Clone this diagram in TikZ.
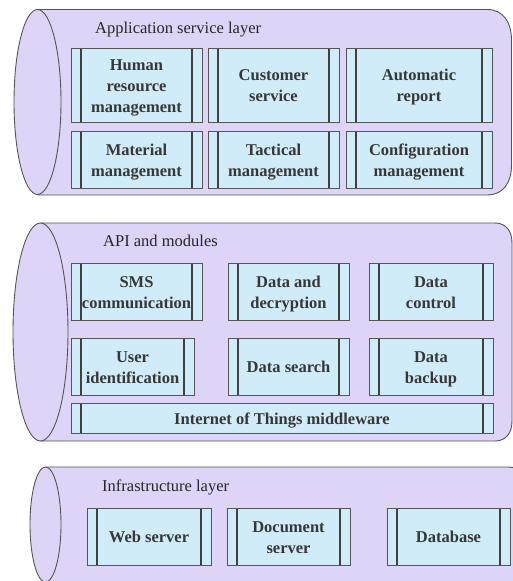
\documentclass[tikz,border=0pt]{standalone}
\usepackage{fontspec}
\usepackage{array}
\setmainfont{Liberation Serif}
\setlength\extrarowheight{6pt}
\definecolor{layerfill}{RGB}{221,212,247}
\definecolor{boxfill}{RGB}{208,236,248}
\definecolor{edge}{RGB}{85,85,85}
\definecolor{inktext}{RGB}{55,55,55}
% centred stack of lines with a fixed line pitch
\newcommand\lines[1]{\begin{tabular}{@{}c@{}}#1\end{tabular}}
\begin{document}
\begin{tikzpicture}[x=1pt,y=-1pt,
  layer/.style={fill=layerfill,draw=edge,line width=0.9pt},
  layertitle/.style={anchor=base west,inner sep=0pt,text=black!85,font=\fontsize{16.5}{20}\selectfont},
  proc/.style={draw=edge,fill=boxfill,line width=0.8pt,inner sep=0pt,
    text=inktext,font=\fontsize{16.5}{15}\selectfont\bfseries,
    path picture={
      \draw[black!75,line width=1.3pt]
        ([xshift=10pt]path picture bounding box.north west) -- ([xshift=10pt]path picture bounding box.south west)
        ([xshift=-10pt]path picture bounding box.north east) -- ([xshift=-10pt]path picture bounding box.south east);
    }},
]
\useasboundingbox (0,0) rectangle (513,581);

% ---------------- application service layer ----------------
\path[layer] (37.5,9.5) -- (487,9.5) .. controls (503,9.5) and (511.5,22) .. (511.5,40)
  -- (511.5,165) .. controls (511.5,183) and (503,195) .. (487,195) -- (37.5,195);
\draw[layer] (37.5,102) ellipse [x radius=23.5, y radius=92.5];
\node[layertitle] (apptitle) at (95,33.5) {Application service layer};
\node[proc,minimum width=131pt,minimum height=74pt] (hr)   at (136.5,85)  {\lines{Human\\resource\\management}};
\node[proc,minimum width=131pt,minimum height=74pt] (cs)   at (273.5,85)  {\lines{Customer\\service}};
\node[proc,minimum width=146pt,minimum height=74pt] (ar)   at (419,85)    {\lines{Automatic\\report}};
\node[proc,minimum width=131pt,minimum height=57pt] (mm)   at (136.5,159.5) {\lines{Material\\management}};
\node[proc,minimum width=131pt,minimum height=57pt] (tm)   at (273.5,159.5) {\lines{Tactical\\management}};
\node[proc,minimum width=146pt,minimum height=57pt] (cm)   at (419,159.5)   {\lines{Configuration\\management}};

% ---------------- API and modules ----------------
\path[layer] (40.5,223) -- (495,223) .. controls (506,223) and (512,231) .. (512,243)
  -- (512,421) .. controls (512,433) and (506,441) .. (495,441) -- (40.5,441);
\draw[layer] (40.5,332) ellipse [x radius=27.5, y radius=109];
\node[layertitle] (apititle) at (103,246.5) {API and modules};
\node[proc,minimum width=131pt,minimum height=57pt] (sms)  at (136.5,291.5) {\lines{SMS\\communication}};
\node[proc,minimum width=121pt,minimum height=57pt] (dd)   at (288.5,291.5) {\lines{Data and\\decryption}};
\node[proc,minimum width=124pt,minimum height=57pt] (dc)   at (431,291.5)   {\lines{Data\\control}};
\node[proc,minimum width=123pt,minimum height=57pt] (uid)  at (132.5,366.5) {\lines{User\\identification}};
\node[proc,minimum width=121pt,minimum height=57pt] (ds)   at (288.5,366.5) {\lines{Data search}};
\node[proc,minimum width=124pt,minimum height=57pt] (db)   at (431,366.5)   {\lines{Data\\backup}};
\node[proc,minimum width=422pt,minimum height=30pt] (iot)  at (282,418)     {\lines{Internet of Things middleware}};

% ---------------- infrastructure layer ----------------
\path[layer] (45.5,467) -- (508,467) .. controls (520,467) and (528,475) .. (528,488)
  -- (528,600) -- (45.5,600);
\draw[layer] (45.5,524.5) ellipse [x radius=15.5, y radius=57.5];
\node[layertitle] (inftitle) at (102,491.5) {Infrastructure layer};
\node[proc,minimum width=124pt,minimum height=57pt] (web)  at (149,536.5)   {\lines{Web server}};
\node[proc,minimum width=123pt,minimum height=57pt] (docs) at (288.5,536.5) {\lines{Document\\server}};
\node[proc,minimum width=123pt,minimum height=57pt] (dbs)  at (448.5,536.5) {\lines{Database}};
\end{tikzpicture}
\end{document}
